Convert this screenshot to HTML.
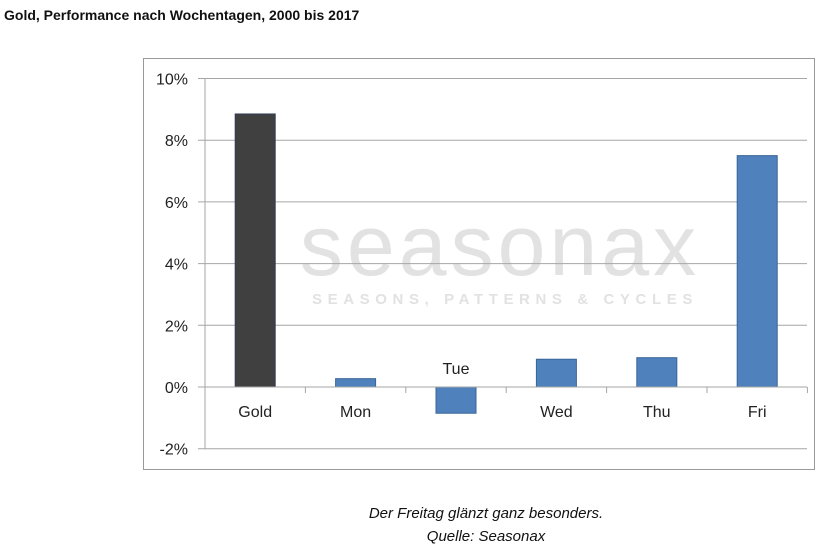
<!DOCTYPE html>
<html><head><meta charset="utf-8"><style>
body{margin:0;width:828px;height:545px;background:#fff;font-family:"Liberation Sans",sans-serif;overflow:hidden}
</style></head><body>
<svg width="828" height="545">
<text x="4" y="20" font-size="14" font-weight="bold" fill="#111">Gold, Performance nach Wochentagen, 2000 bis 2017</text>
<rect x="143.5" y="58.5" width="671" height="411" fill="#fff" stroke="#999"/>
<text x="500" y="275" font-size="86" fill="#e2e2e2" text-anchor="middle" letter-spacing="4">seasonax</text>
<text x="505" y="304" font-size="15" fill="#e2e2e2" text-anchor="middle" letter-spacing="5.6" font-weight="bold">SEASONS, PATTERNS &amp; CYCLES</text>
<g id="grid"></g><g id="bars"></g><g id="axes"></g>
<text x="486" y="518" font-size="15" font-style="italic" fill="#111" text-anchor="middle">Der Freitag glänzt ganz besonders.</text>
<text x="486" y="541" font-size="15" font-style="italic" fill="#111" text-anchor="middle">Quelle: Seasonax</text>
</svg>
<script>
const categories=["Gold","Mon","Tue","Wed","Thu","Fri"];
const values=[8.85,0.27,-0.85,0.9,0.95,7.5];
const yTicks=[-2,0,2,4,6,8,10];
const ns="http://www.w3.org/2000/svg";
const X0=205,CW=100.4,Y0=387,PX=30.85,XR=807;
const y=v=>Y0-v*PX;
function mk(t,a,p){const e=document.createElementNS(ns,t);for(const k in a)e.setAttribute(k,a[k]);p.appendChild(e);return e;}
const g=document.getElementById('grid'),b=document.getElementById('bars'),ax=document.getElementById('axes');
yTicks.forEach(t=>{
 if(t!==0){const l=mk('line',{x1:198,x2:XR,y1:y(t),y2:y(t),stroke:'#a6a6a6'},g);
 
 }
 const tx=mk('text',{x:188,y:y(t)+6,'font-size':16,fill:'#222','text-anchor':'end'},ax);
 tx.textContent=t+'%';
 
 
});
categories.forEach((c,i)=>{
 const v=values[i],cx=X0+CW*(i+0.5);
 const r=mk('rect',{x:cx-20,y:Math.min(y(v),Y0),width:40,height:Math.abs(y(v)-Y0),fill:i===0?'#404040':'#4f81bd',stroke:i===0?'#2f3e55':'#3a6496'},b);
 
 
 const ly=v<0?y(0)-13:Y0+30;
 const t=mk('text',{x:cx,y:ly,'font-size':16,fill:'#222','text-anchor':'middle'},ax);
 t.textContent=c;
 
 
 const tk=mk('line',{x1:X0+CW*(i+1),x2:X0+CW*(i+1),y1:Y0,y2:Y0+6,stroke:'#a6a6a6'},ax);
 
 
});
const za=mk('line',{x1:198,x2:XR,y1:Y0,y2:Y0,stroke:'#a6a6a6'},ax);


const ya=mk('line',{x1:X0,x2:X0,y1:y(10),y2:y(-2),stroke:'#a6a6a6'},ax);


</script>
</body></html>
